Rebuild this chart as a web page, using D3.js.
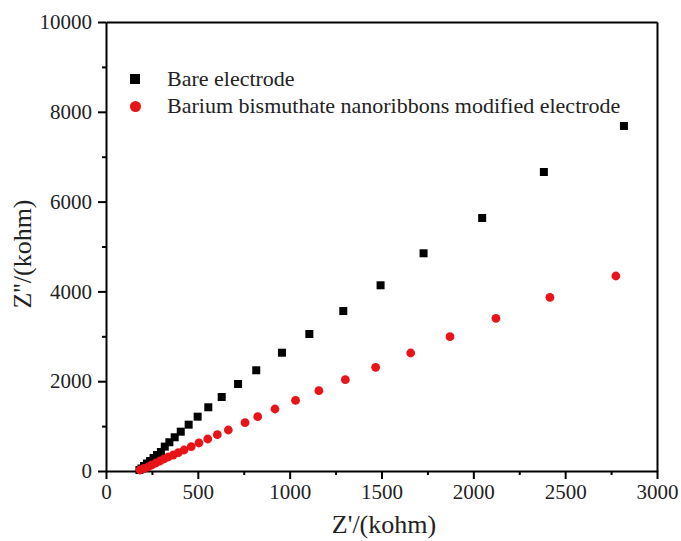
<!DOCTYPE html>
<html>
<head>
<meta charset="utf-8">
<script src="https://cdn.jsdelivr.net/npm/d3@7"></script>
<style>
  body { margin: 0; background: #fff; }
  text { font-family: "Liberation Serif", "Times New Roman", serif; fill: #222; }
</style>
</head>
<body>
<div id="chart"></div>
<script>
// Bare electrode (black squares), Z' and Z'' in kohm
var bareX = [182, 193, 207, 223, 240, 259, 278, 299, 320, 345, 374, 407, 450, 499, 557, 630, 719, 818, 958, 1107, 1292, 1495, 1729, 2048, 2384, 2820];
var bareY = [22, 56, 111, 167, 223, 290, 356, 423, 543, 640, 751, 876, 1032, 1210, 1419, 1648, 1938, 2243, 2635, 3051, 3563, 4136, 4849, 5635, 6659, 7684];

// barium bismuthate nanoribbons modified electrode (red circles)
var modX = [185, 207, 229, 250, 272, 294, 316, 339, 366, 394, 425, 464, 506, 554, 606, 666, 757, 826, 920, 1032, 1159, 1303, 1468, 1659, 1873, 2123, 2417, 2776];
var modY = [22, 56, 89, 134, 178, 223, 267, 312, 356, 408, 468, 541, 624, 713, 808, 913, 1076, 1209, 1381, 1575, 1788, 2033, 2310, 2628, 2991, 3401, 3869, 4343];

var xTicks = [0, 500, 1000, 1500, 2000, 2500, 3000];
var xMinor = [250, 750, 1250, 1750, 2250, 2750];
var yTicks = [0, 2000, 4000, 6000, 8000, 10000];
var yMinor = [1000, 3000, 5000, 7000, 9000];

var legendNames = ["Bare electrode", "Barium bismuthate nanoribbons modified electrode"];

var svg = d3.select("#chart").append("svg").attr("width", 681).attr("height", 541);

var x = d3.scaleLinear().domain([0, 3000]).range([106, 657]);
var y = d3.scaleLinear().domain([0, 10000]).range([471, 22]);

// frame lines top and right
svg.append("g").attr("transform", "translate(0,22)")
    .call(d3.axisTop(x).tickValues([]).tickSizeOuter(0))
    .select(".domain").attr("stroke-width", 2);
svg.append("g").attr("transform", "translate(657,0)")
    .call(d3.axisRight(y).tickValues([]).tickSizeOuter(0))
    .select(".domain").attr("stroke-width", 2);

// bottom axis
var xMinorG = svg.append("g").attr("transform", "translate(0,471)")
    .call(d3.axisBottom(x).tickValues(xMinor).tickSize(4).tickSizeOuter(0).tickFormat(""));
xMinorG.selectAll("line").attr("stroke-width", 2);
var xAxisG = svg.append("g").attr("transform", "translate(0,471)")
    .call(d3.axisBottom(x).tickValues(xTicks).tickSize(8).tickSizeOuter(0).tickPadding(5).tickFormat(d3.format("d")));
xAxisG.select(".domain").attr("stroke-width", 2);
xAxisG.selectAll("line").attr("stroke-width", 2);
xAxisG.selectAll("text").style("font-size", "21px").style("font-family", "Liberation Serif").attr("fill", "#222");

// left axis
var yMinorG = svg.append("g").attr("transform", "translate(106,0)")
    .call(d3.axisLeft(y).tickValues(yMinor).tickSize(4).tickSizeOuter(0).tickFormat(""));
yMinorG.selectAll("line").attr("stroke-width", 2);
var yAxisG = svg.append("g").attr("transform", "translate(106,0)")
    .call(d3.axisLeft(y).tickValues(yTicks).tickSize(8).tickSizeOuter(0).tickPadding(6).tickFormat(d3.format("d")));
yAxisG.select(".domain").attr("stroke-width", 2);
yAxisG.selectAll("line").attr("stroke-width", 2);
yAxisG.selectAll("text").style("font-size", "21px").style("font-family", "Liberation Serif").attr("fill", "#222");

// axis titles
svg.append("text").text("Z'/(kohm)").attr("x", 384).attr("y", 533)
    .attr("text-anchor", "middle").style("font-size", "26px");
svg.append("text").text("Z''/(kohm)").attr("transform", "translate(31,254) rotate(-90)")
    .attr("text-anchor", "middle").style("font-size", "26px");

// data points
var bare = bareX.map(function (d, i) { return [d, bareY[i]]; });
var mod = modX.map(function (d, i) { return [d, modY[i]]; });

svg.append("g").selectAll("rect").data(bare).enter().append("rect")
    .attr("x", function (d) { return x(d[0]) - 4; })
    .attr("y", function (d) { return y(d[1]) - 4; })
    .attr("width", 8).attr("height", 8)
    .attr("fill", "#000");

svg.append("g").selectAll("circle").data(mod).enter().append("circle")
    .attr("cx", function (d) { return x(d[0]); })
    .attr("cy", function (d) { return y(d[1]); })
    .attr("r", 4.4)
    .attr("fill", "#e8141a");

// legend
svg.append("rect").attr("x", 130).attr("y", 74).attr("width", 10).attr("height", 10).attr("fill", "#000");
svg.append("circle").attr("cx", 135.5).attr("cy", 106.5).attr("r", 5.5).attr("fill", "#e8141a");
svg.append("text").text(legendNames[0]).attr("x", 167).attr("y", 86).style("font-size", "22px");
svg.append("text").text(legendNames[1]).attr("x", 167).attr("y", 113).style("font-size", "22px");
</script>
</body>
</html>
